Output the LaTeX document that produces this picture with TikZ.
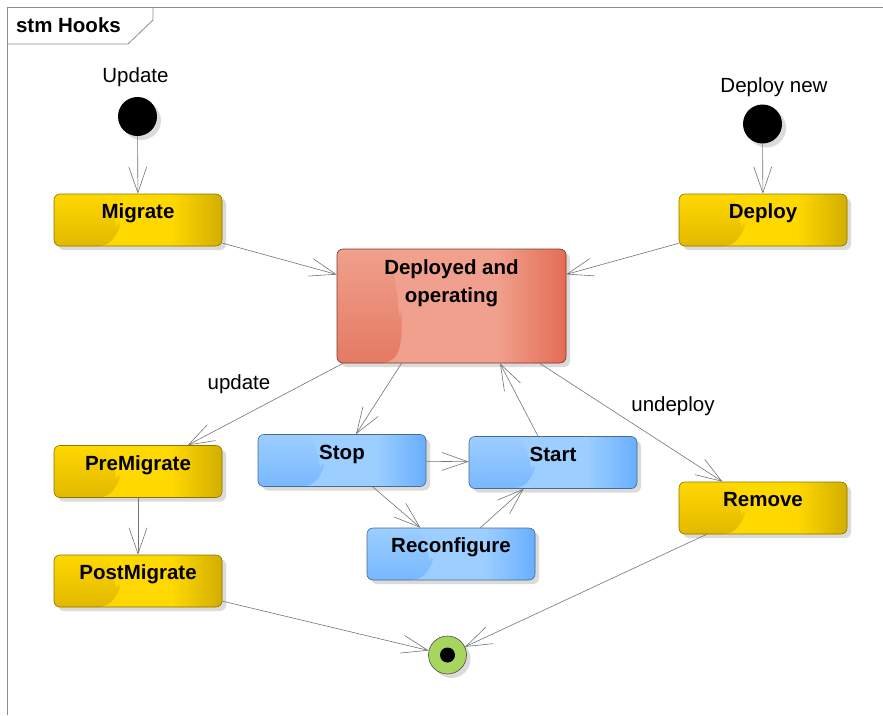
\documentclass[tikz,border=0pt]{standalone}
\usepackage{fontspec}
\setmainfont{Liberation Sans}
\usetikzlibrary{arrows.meta,shadows,calc}
\definecolor{ylwL}{HTML}{E2B800}
\definecolor{ylwM}{HTML}{FFD800}
\definecolor{ylwR}{HTML}{D2AE00}
\definecolor{ylwD}{HTML}{8C7400}
\definecolor{redL}{HTML}{E47A62}
\definecolor{redM}{HTML}{F0A08C}
\definecolor{redR}{HTML}{E46C54}
\definecolor{redD}{HTML}{7A3A30}
\definecolor{bluL}{HTML}{78B8FF}
\definecolor{bluM}{HTML}{9CCEFF}
\definecolor{bluR}{HTML}{68AEFF}
\definecolor{bluD}{HTML}{4A6A90}
\definecolor{finG}{HTML}{A6D65E}
\definecolor{frameG}{HTML}{8C8C8C}
\begin{document}
\begin{tikzpicture}[x=1pt,y=-1pt,
	every node/.style={font=\fontsize{20.5}{28}\selectfont},
	shadowed/.style={drop shadow={shadow xshift=4pt,shadow yshift=-4pt,fill=black!14,opacity=1}},
	% glossy look: base colour, darker lower left part, darker right edge
	gloss/.style n args={3}{fill=#2, path picture={
		\coordinate (gsw) at (path picture bounding box.south west);
		\coordinate (gne) at (path picture bounding box.north east);
		\fill[left color=#2, right color=#3] ($(gsw)!0.7!(gsw-|gne)$) rectangle (gne);
		\fill[top color=#2, bottom color=#1] (gsw|-gne) -- (gsw) -- ($(gsw)+(50,0)$)
			.. controls ($(gsw)+(62,-8)$) and ($(gsw)+(66,-20)$) .. ($($(gsw)!0.5!(gsw|-gne)$)+(64,0)$)
			.. controls ($($(gsw)!0.2!(gsw|-gne)$)+(62,0)$) and ($(gsw|-gne)+(60,0)$) .. ($(gsw|-gne)+(40,0)$) -- cycle;
	}},
	statebox/.style={shadowed, rounded corners=6pt, line width=0.6pt, minimum width=168pt,
		inner xsep=0pt, inner ysep=0pt, text height=24.5pt, text depth=27.5pt,
		font=\bfseries\fontsize{20.5}{28}\selectfont},
	ylwbox/.style={statebox, draw=ylwD, gloss={ylwL}{ylwM}{ylwR}},
	blubox/.style={statebox, draw=bluD, gloss={bluL}{bluM}{bluR}},
	redbox/.style={statebox, draw=redD, gloss={redL}{redM}{redR}},
	initdot/.style={shadowed, circle, fill=black, minimum size=39pt, inner sep=0pt},
	trans/.style={draw=black!55, line width=0.6pt, -{Straight Barb[length=26pt,width=18pt]}}]
	\useasboundingbox (0,0) rectangle (883,715);

	% frame
	\draw[frameG, line width=1.5pt] (7.5,715) -- (7.5,7.5) -- (883,7.5);
	\draw[frameG, line width=0.8pt] (7.5,44) -- (128,44) -- (153,20) -- (153,7.5);
	\node[anchor=base west, font=\bfseries\fontsize{20.5}{28}\selectfont] (title) at (12.5,32) {stm Hooks};

	% start points
	\node[initdot] (upd) at (137.5,116.5) {};
		\node[anchor=base] (updL) at (135.5,82) {Update};
	\node[initdot] (newdep) at (762.5,124) {};
		\node[anchor=base] (newdepL) at (774,92) {Deploy new};

	% states
	\node[ylwbox] (mig) at (138,220) {Migrate};
	\node[ylwbox] (depl) at (763,220) {Deploy};
	\node[redbox, minimum width=229pt, text height=53pt, text depth=61pt, align=center] (oper) at (451.5,306) {Deployed and\\operating};
	\node[ylwbox] (premig) at (138,471.5) {PreMigrate};
	\node[ylwbox] (postmig) at (138,581) {PostMigrate};
	\node[blubox] (stop) at (342,460.5) {Stop};
	\node[blubox] (start) at (553,462.5) {Start};
	\node[blubox] (reconf) at (451,554) {Reconfigure};
	\node[ylwbox] (remove) at (763,508) {Remove};

	% end point
	\node[shadowed, circle, draw=black!70, line width=0.6pt, fill=finG, minimum size=38pt, inner sep=0pt] (fin) at (447.5,655) {};
	\node[circle, fill=black, minimum size=15pt, inner sep=0pt] (finI) at (fin) {};

	% labels
	\node[anchor=base] (updT) at (239,389) {update};
	\node[anchor=base] (undepT) at (673,411) {undeploy};

	% transitions
	\draw[trans] (upd) -- (mig);
	\draw[trans] (newdep) -- (depl);
	\draw[trans] (mig) -- (oper);
	\draw[trans] (depl) -- (oper);
	\draw[trans] (oper) -- (premig);
	\draw[trans] ([xshift=-50pt]oper.south) -- ([xshift=14pt]stop.north);
	\draw[trans] ([xshift=-15pt]start.north) -- ([xshift=48.5pt]oper.south);
	\draw[trans] (oper) -- (remove);
	\draw[trans] (stop) -- (start);
	\draw[trans] (stop) -- (reconf);
	\draw[trans] (reconf) -- (start);
	\draw[trans] (premig) -- (postmig);
	\draw[trans] (postmig) -- (fin);
	\draw[trans] (remove) -- (fin);
\end{tikzpicture}
\end{document}
